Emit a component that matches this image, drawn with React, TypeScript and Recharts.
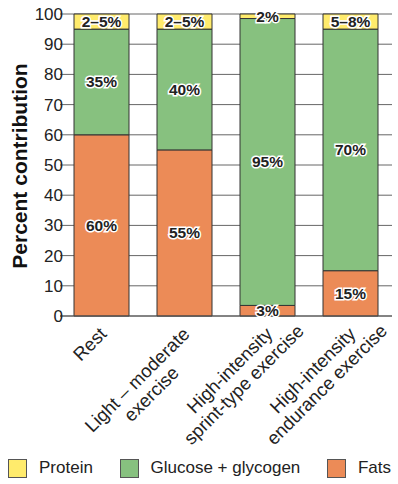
import React from 'react'
import { BarChart, Bar, XAxis, YAxis, CartesianGrid, LabelList } from 'recharts'

const categories = [
  ['Rest'],
  ['Light – moderate', 'exercise'],
  ['High-intensity', 'sprint-type exercise'],
  ['High-intensity', 'endurance exercise'],
]
const fats = [60, 55, 3.5, 15]
const glucose = [35, 40, 95, 80]
const protein = [5, 5, 1.5, 5]
const fatsLabels = ['60%', '55%', '3%', '15%']
const glucoseLabels = ['35%', '40%', '95%', '70%']
const proteinLabels = ['2–5%', '2–5%', '2%', '5–8%']
const yTicks = [0, 10, 20, 30, 40, 50, 60, 70, 80, 90, 100]

const FONT = '"Liberation Sans", Arial, Helvetica, sans-serif'
const COLORS = { protein: '#ffeb6c', glucose: '#87c17f', fats: '#ec8b57' }
const legendItems = [
  { key: 'protein', label: 'Protein' },
  { key: 'glucose', label: 'Glucose + glycogen' },
  { key: 'fats', label: 'Fats' },
]

const data = categories.map((lines, i) => ({
  name: lines.join(' '),
  fats: fats[i],
  glucose: glucose[i],
  protein: protein[i],
}))

const X_FONT = 18.5

let ctx: CanvasRenderingContext2D | null = null
function measure(text: string) {
  if (!ctx) ctx = document.createElement('canvas').getContext('2d')
  if (!ctx) return text.length * 9
  ctx.font = `${X_FONT}px ${FONT}`
  return ctx.measureText(text).width
}

function XTick(props: any) {
  const { x, y, index } = props
  const lines = categories[index] || []
  const w1 = measure(lines[0] || '')
  return (
    <g transform={`translate(${x - 3},${y + 8}) rotate(-45)`}>
      <text x={0} y={13} textAnchor="end" fontSize={X_FONT} fill="#222" fontFamily={FONT}>{lines[0]}</text>
      {lines[1] && (
        <text x={-w1 / 2} y={33} textAnchor="middle" fontSize={X_FONT} fill="#222" fontFamily={FONT}>{lines[1]}</text>
      )}
    </g>
  )
}

// value labels: dark bold text with a white halo
const makeLabel = (labels: string[]) => (props: any) => {
  const { x, y, width, height, index } = props
  return (
    <text
      x={x + width / 2}
      y={y + height / 2}
      textAnchor="middle"
      dominantBaseline="central"
      fontSize={15.5}
      fontWeight={700}
      fontFamily={FONT}
      fill="#222"
      stroke="#fff"
      strokeWidth={3}
      paintOrder="stroke"
    >
      {labels[index]}
    </text>
  )
}

export default function App() {
  return (
    <div style={{ position: 'absolute', left: 0, top: 0, width: 398, height: 484, background: '#fff', fontFamily: FONT }}>
      <BarChart
        width={398}
        height={484}
        data={data}
        margin={{ top: 14, right: 6, bottom: 0, left: 0 }}
        barSize={55}
      >
        <CartesianGrid horizontal vertical={false} stroke="#666" strokeWidth={1} />
        <XAxis
          dataKey="name"
          height={168}
          interval={0}
          tick={<XTick />}
          tickLine={false}
          tickSize={0}
          axisLine={{ stroke: '#555' }}
        />
        <YAxis
          width={60}
          domain={[0, 100]}
          ticks={yTicks}
          interval={0}
          axisLine={false}
          tickLine={false}
          tickSize={0}
          tickMargin={0}
          tick={{ fontSize: 17, fill: '#222', fontFamily: FONT, dx: 3 }}
          label={{
            content: (p: any) => {
              const vb = p.viewBox || { x: 0, y: 14, height: 302 }
              const cy = vb.y + vb.height / 2
              return (
                <text
                  x={0}
                  y={0}
                  transform={`translate(27,${cy + 1}) rotate(-90)`}
                  textAnchor="middle"
                  fontSize={21}
                  fontWeight={700}
                  fill="#111"
                  fontFamily={FONT}
                >
                  Percent contribution
                </text>
              )
            },
          }}
        />
        <Bar dataKey="fats" stackId="a" fill={COLORS.fats} stroke="#333" strokeWidth={1} isAnimationActive={false}>
          <LabelList dataKey="fats" content={makeLabel(fatsLabels)} />
        </Bar>
        <Bar dataKey="glucose" stackId="a" fill={COLORS.glucose} stroke="#333" strokeWidth={1} isAnimationActive={false}>
          <LabelList dataKey="glucose" content={makeLabel(glucoseLabels)} />
        </Bar>
        <Bar dataKey="protein" stackId="a" fill={COLORS.protein} stroke="#333" strokeWidth={1} isAnimationActive={false}>
          <LabelList dataKey="protein" content={makeLabel(proteinLabels)} />
        </Bar>
      </BarChart>
      <div style={{
        position: 'absolute', left: 8, right: 7, top: 457, height: 22,
        display: 'flex', justifyContent: 'space-between', alignItems: 'center',
      }}>
        {legendItems.map(item => (
          <div key={item.key} style={{ display: 'flex', alignItems: 'center' }}>
            <span style={{
              display: 'inline-block', width: 19, height: 19, boxSizing: 'border-box',
              background: (COLORS as any)[item.key], border: '1px solid #555', marginRight: 12,
            }} />
            <span style={{ fontSize: 17, color: '#222' }}>{item.label}</span>
          </div>
        ))}
      </div>
    </div>
  )
}
